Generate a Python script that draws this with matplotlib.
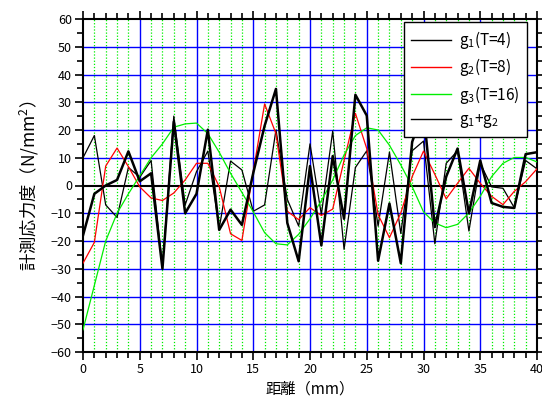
import matplotlib
matplotlib.use("Agg")
import matplotlib.pyplot as plt
from matplotlib.ticker import MultipleLocator
import numpy as np

plt.rcParams['font.family'] = ['Noto Sans CJK JP', 'DejaVu Sans']
plt.rcParams['mathtext.fontset'] = 'custom'
plt.rcParams['mathtext.rm'] = 'Noto Sans CJK JP'
plt.rcParams['mathtext.it'] = 'Noto Sans CJK JP'
plt.rcParams['axes.unicode_minus'] = True

x = list(range(41))

g1 = [10, 18, -7, -11.5, 6.5, 3, 9, -29, 25, -7,
      5, 12.4, -15.5, 8.8, 5.6, -9.3, -7, 20, -5, -14.6,
      15, -10.5, 19.6, -23, 6.5, 12.5, -14.6, 12, -17.3, 12.5,
      16, -21, 8, 12.5, -16.4, 8, -0.5, -1, -8, 9, 6]

g2 = [-28, -20.5, 7, 13.5, 6.8, -0.5, -4.5, -5.4, -2.7, 2,
      8, 8, -0.4, -17.4, -19.8, 5, 29.4, 18.7, -9.3, -12.3,
      -8, -10.8, -8.5, 9, 26, 13.3, -10.5, -18.8, -9.9, 3.2,
      12.4, 4, -4.8, 0.8, 6.2, 0.8, -3.9, -6.9, -2.1, 1.4, 6]

g3 = [-52, -36, -20, -10, -3, 3.5, 10, 15, 21, 22.2,
      22.5, 18.7, 12, 4.4, -2.5, -9.5, -17, -21, -21.4, -17.6,
      -12, -5.5, 2, 11, 18, 20.8, 20, 14.5, 7.4, -0.4,
      -9.5, -13.5, -15.2, -14, -9.9, -3.9, 3.2, 8, 10.1, 10.1, 8.5]

g12 = [-18, -3, 0, 2, 12.3, 1.5, 4.4, -30, 23, -10,
       -3, 20.1, -16, -8.7, -14.2, 4.5, 21.5, 34.8, -13.5, -27.3,
       7, -21.6, 10.6, -12, 32.7, 25.2, -27.1, -6.5, -28, 15.7,
       27, -15, 3.2, 13.3, -10, 9, -6.3, -7.7, -8.1, 11.3, 12]

labels = [r'g$_1$(T=4)', r'g$_2$(T=8)', r'g$_3$(T=16)', r'g$_1$+g$_2$']
xlabel = '距離（mm）'
ylabel = '計測応力度（N/mm$^{2}$）'

fig = plt.figure(figsize=(5.42, 4.03), dpi=100)
ax = fig.add_axes([83/542, 1-352/403, (537-83)/542, (352-19)/403])

ax.set_xlim(0, 40)
ax.set_ylim(-60, 60)

# grids
for xv in range(0, 41):
    if xv % 5 != 0:
        ax.axvline(xv, color='#00ee00', lw=0.9, ls=(0, (1, 1.5)), zorder=1)
for xv in range(5, 40, 5):
    ax.axvline(xv, color='#0000ff', lw=1.0, zorder=1.5)
for yv in range(-50, 60, 10):
    if yv != 0:
        ax.axhline(yv, color='#0000ff', lw=1.0, zorder=1.5)
ax.axhline(0, color='black', lw=1.5, zorder=1.6)

l1, = ax.plot(x, g1, color='black', lw=0.9, zorder=3)
l2, = ax.plot(x, g2, color='#ff0000', lw=0.9, zorder=3)
l3, = ax.plot(x, g3, color='#00ee00', lw=0.9, zorder=3)
l4, = ax.plot(x, g12, color='black', lw=1.8, zorder=3)

ax.xaxis.set_major_locator(MultipleLocator(5))
ax.xaxis.set_minor_locator(MultipleLocator(1))
ax.yaxis.set_major_locator(MultipleLocator(10))
ax.yaxis.set_minor_locator(MultipleLocator(5))
ax.tick_params(which='both', direction='out', top=True, right=True, width=1.2,
               labelsize=9, pad=2)
ax.tick_params(which='major', length=6)
ax.tick_params(which='minor', length=4)
for s in ax.spines.values():
    s.set_linewidth(1.5)

ax.set_xlabel(xlabel, fontsize=11, labelpad=3)
ax.set_ylabel(ylabel, fontsize=12.5, labelpad=7)

leg = ax.legend([l1, l2, l3, l4], labels, loc='upper right',
                bbox_to_anchor=(0.978, 0.991), borderaxespad=0,
                fontsize=11, frameon=True,
                fancybox=False, framealpha=1, edgecolor='black',
                handlelength=2.6, labelspacing=0.35, borderpad=0.45,
                handletextpad=0.55)
leg.get_frame().set_linewidth(1.0)
leg.set_zorder(10)
for h in leg.legend_handles:
    h.set_linewidth(1.0)

fig.savefig('out.png', dpi=100)
